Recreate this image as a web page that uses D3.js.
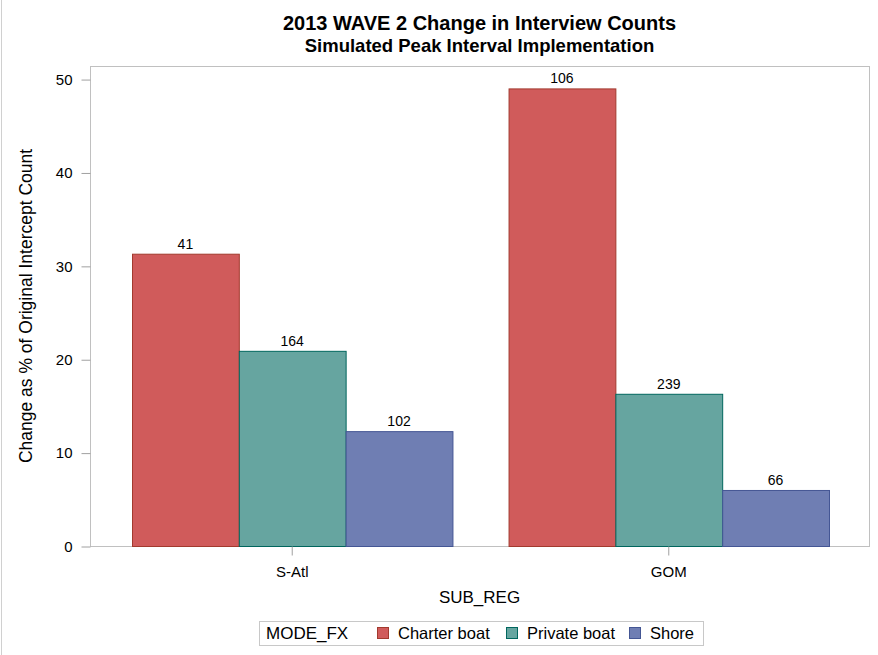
<!DOCTYPE html>
<html>
<head>
<meta charset="utf-8">
<script src="https://cdn.jsdelivr.net/npm/d3@7"></script>
<style>
  body { margin: 0; background: #fff; }
  text { font-family: "Liberation Sans", Arial, sans-serif; fill: #000; }
</style>
</head>
<body>
<div id="chart"></div>
<script>
// data
var regions = ["S-Atl", "GOM"];
var modes = ["Charter boat", "Private boat", "Shore"];
var pctCharter = [31.3, 49.0];
var pctPrivate = [20.9, 16.3];
var pctShore = [12.3, 6.0];
var cntCharter = [41, 106];
var cntPrivate = [164, 239];
var cntShore = [102, 66];
var yTicks = [0, 10, 20, 30, 40, 50];

var fills = ["#D05B5B", "#66A5A0", "#6F7EB3"];
var strokes = ["#A23A2E", "#01665E", "#445694"];

var W = 878, H = 655;
var frame = { left: 90, right: 869, top: 66, bottom: 546 };

var data = [];
regions.forEach(function (r, i) {
  data.push({ region: r, mode: modes[0], pct: pctCharter[i], n: cntCharter[i] });
  data.push({ region: r, mode: modes[1], pct: pctPrivate[i], n: cntPrivate[i] });
  data.push({ region: r, mode: modes[2], pct: pctShore[i], n: cntShore[i] });
});

var svg = d3.select("#chart").append("svg")
    .attr("width", W)
    .attr("height", H);

// left edge line of the image
svg.append("line")
    .attr("x1", 1.5).attr("x2", 1.5)
    .attr("y1", 0).attr("y2", H)
    .attr("stroke", "#d0d0d0");

var y = d3.scaleLinear()
    .domain([0, 51.4])
    .range([frame.bottom, frame.top]);

var x0 = d3.scaleBand()
    .domain(regions)
    .range([132, 829])
    .paddingInner(0.149)
    .paddingOuter(0);

var x1 = d3.scaleBand()
    .domain(modes)
    .range([0, x0.bandwidth()]);

var color = d3.scaleOrdinal().domain(modes).range(fills);
var edge = d3.scaleOrdinal().domain(modes).range(strokes);

// plot frame
svg.append("rect")
    .attr("x", frame.left + 0.5)
    .attr("y", frame.top + 0.5)
    .attr("width", frame.right - frame.left)
    .attr("height", frame.bottom - frame.top)
    .attr("fill", "none")
    .attr("stroke", "#c0c0c0");

// bars
svg.append("g").selectAll("rect")
    .data(data)
    .join("rect")
    .attr("x", function (d) { return x0(d.region) + x1(d.mode) + 0.5; })
    .attr("y", function (d) { return y(d.pct) + 0.5; })
    .attr("width", x1.bandwidth())
    .attr("height", function (d) { return y(0) - y(d.pct); })
    .attr("fill", function (d) { return color(d.mode); })
    .attr("stroke", function (d) { return edge(d.mode); });

// count labels
svg.append("g").selectAll("text")
    .data(data)
    .join("text")
    .attr("x", function (d) { return x0(d.region) + x1(d.mode) + x1.bandwidth() / 2; })
    .attr("y", function (d) { return y(d.pct) - 5; })
    .attr("text-anchor", "middle")
    .style("font-size", "14px")
    .text(function (d) { return d.n; });

// y axis
var yAxis = svg.append("g")
    .attr("transform", "translate(" + (frame.left + 0.5) + ",0.5)")
    .call(d3.axisLeft(y).tickValues(yTicks).tickSize(9).tickPadding(9));
yAxis.select(".domain").remove();
yAxis.selectAll("line").attr("stroke", "#a0a0a0");
yAxis.selectAll("text").style("font-size", "15px").style("font-family", "Liberation Sans, Arial, sans-serif").attr("fill", "#000");

// x axis
var xAxis = svg.append("g")
    .attr("transform", "translate(0," + (frame.bottom + 0.5) + ")")
    .call(d3.axisBottom(x0).tickSize(9).tickPadding(11));
xAxis.select(".domain").remove();
xAxis.selectAll("line").attr("stroke", "#a0a0a0");
xAxis.selectAll("text").style("font-size", "15px").style("font-family", "Liberation Sans, Arial, sans-serif").attr("fill", "#000");

// titles
var cx = (frame.left + frame.right) / 2;
svg.append("text")
    .attr("x", cx).attr("y", 30)
    .attr("text-anchor", "middle")
    .style("font-size", "20px").style("font-weight", "bold")
    .text("2013 WAVE 2 Change in Interview Counts");
svg.append("text")
    .attr("x", cx).attr("y", 52)
    .attr("text-anchor", "middle")
    .style("font-size", "18.5px").style("font-weight", "bold")
    .text("Simulated Peak Interval Implementation");

svg.append("text")
    .attr("transform", "translate(32," + (frame.top + frame.bottom) / 2 + ") rotate(-90)")
    .attr("text-anchor", "middle")
    .style("font-size", "17.5px")
    .text("Change as % of Original Intercept Count");

svg.append("text")
    .attr("x", cx).attr("y", 603)
    .attr("text-anchor", "middle")
    .style("font-size", "17px")
    .text("SUB_REG");

// legend
var lg = svg.append("g");
lg.append("rect")
    .attr("x", 259.5).attr("y", 621.5)
    .attr("width", 444).attr("height", 24)
    .attr("fill", "#fff").attr("stroke", "#c8c8c8");
lg.append("text")
    .attr("x", 266).attr("y", 639)
    .style("font-size", "17px")
    .text("MODE_FX");
var legendX = [377, 506, 629];
modes.forEach(function (m, i) {
  lg.append("rect")
      .attr("x", legendX[i] + 0.5).attr("y", 627.5)
      .attr("width", 11).attr("height", 11)
      .attr("fill", color(m)).attr("stroke", edge(m));
  lg.append("text")
      .attr("x", legendX[i] + 21).attr("y", 639)
      .style("font-size", "16.5px")
      .text(m);
});
</script>
</body>
</html>
